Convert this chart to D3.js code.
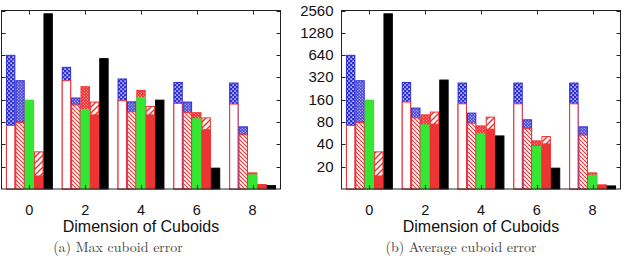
<!DOCTYPE html>
<html><head><meta charset="utf-8">
<script src="https://cdn.jsdelivr.net/npm/d3@7"></script>
<style>
html,body{margin:0;padding:0;background:#fff;}
svg{display:block;}
</style></head>
<body>
<svg id="chart" width="624" height="263"></svg>
<script>
// ---------- data ----------
const dims = [0, 2, 4, 6, 8];
const yTickValues = [20, 40, 80, 160, 320, 640, 1280, 2560];
const xTickValues = [0, 2, 4, 6, 8];
const panelTitles = ["(a) Max cuboid error", "(b) Average cuboid error"];
const xAxisTitle = "Dimension of Cuboids";

// (a) Max cuboid error
const maxA_outer = [636, 438, 305, 274, 269];
const maxA_inner = [72, 289, 155, 143, 140];
const maxB_outer = [289, 169, 150, 149, 69];
const maxB_inner = [79, 136, 110, 108, 54];
const maxC_outer = [157, 240, 214, 107, 16.5];
const maxC_inner = [157, 118, 172, 88.5, 15.5];
const maxD_outer = [31.7, 149, 130, 91, 11.4];
const maxD_inner = [15, 100, 100, 63, 11.4];
const maxE = [2309, 574, 158, 19.1, 11.1];

// (b) Average cuboid error
const avgA_outer = [636, 274, 269, 269, 269];
const avgA_inner = [72, 149, 141, 141, 141];
const avgB_outer = [289, 123.5, 105.7, 85.8, 69];
const avgB_inner = [79, 91, 77.4, 65.4, 53.3];
const avgC_outer = [157, 100, 71, 44.6, 16.5];
const avgC_inner = [157, 73.4, 55.5, 37.4, 15.3];
const avgD_outer = [31.7, 109, 93.3, 51, 11.3];
const avgD_inner = [15, 75, 64.2, 40.6, 11.3];
const avgE = [2309, 295, 52, 19.1, 11];

// ---------- drawing ----------
const svg = d3.select("#chart");
const defs = svg.append("defs");
const BLUE = "#2f2fd8", RED = "#ee3333", GREEN = "#33e833";

function dotPattern(id, bg, size, dot) {
  const p = defs.append("pattern").attr("id", id).attr("patternUnits", "userSpaceOnUse")
    .attr("width", size).attr("height", size);
  p.append("rect").attr("width", size).attr("height", size).attr("fill", bg);
  p.append("rect").attr("x", size*0.1).attr("y", size*0.1).attr("width", dot).attr("height", dot).attr("fill", "#fff");
  p.append("rect").attr("x", size*0.6).attr("y", size*0.6).attr("width", dot).attr("height", dot).attr("fill", "#fff");
}
function hatchPattern(id, size, dir, sw) {
  const p = defs.append("pattern").attr("id", id).attr("patternUnits", "userSpaceOnUse")
    .attr("width", size).attr("height", size);
  p.append("rect").attr("width", size).attr("height", size).attr("fill", "#fff");
  const d = dir > 0
    ? `M0,${size} L${size},0 M${-size/2},${size/2} L${size/2},${-size/2} M${size/2},${size*1.5} L${size*1.5},${size/2}`
    : `M0,0 L${size},${size} M${-size/2},${size/2} L${size/2},${size*1.5} M${size/2},${-size/2} L${size*1.5},${size/2}`;
  p.append("path").attr("d", d).attr("stroke", RED).attr("stroke-width", sw);
}
dotPattern("blueBig", BLUE, 4, 1.4);
dotPattern("blueFine", "#4a4ad8", 3, 0.9);
dotPattern("redDense", RED, 3, 0.8);
hatchPattern("hatchBack", 4, -1, 1.1);
hatchPattern("hatchFwd", 6, 1, 1.5);

const y = d3.scaleLog().base(2).domain([10, 2560]).range([189, 10.5]);

const panels = [
  { x0: 1.5, x1: 280.5, showY: false, data: [
      [maxA_outer, maxA_inner], [maxB_outer, maxB_inner], [maxC_outer, maxC_inner],
      [maxD_outer, maxD_inner], [maxE, null]], title: panelTitles[0], titleX: 118 },
  { x0: 341.5, x1: 620.5, showY: true, data: [
      [avgA_outer, avgA_inner], [avgB_outer, avgB_inner], [avgC_outer, avgC_inner],
      [avgD_outer, avgD_inner], [avgE, null]], title: panelTitles[1], titleX: 461 }
];

const styles = [
  { outer: { fill: "url(#blueBig)", stroke: BLUE }, inner: { fill: "#fff", stroke: RED } },
  { outer: { fill: "url(#blueFine)", stroke: BLUE }, inner: { fill: "url(#hatchBack)", stroke: RED } },
  { outer: { fill: "url(#redDense)", stroke: RED }, inner: { fill: GREEN, stroke: GREEN } },
  { outer: { fill: "url(#hatchFwd)", stroke: RED }, inner: { fill: RED, stroke: RED } },
  { outer: { fill: "#000", stroke: "#000" }, inner: null }
];

const BW = 0.336; // bar width in x units

panels.forEach(pn => {
  const x = d3.scaleLinear().domain([-1, 9]).range([pn.x0, pn.x1]);
  const g = svg.append("g");
  const yBase = y.range()[0];

  pn.data.forEach((pair, i) => {
    const st = styles[i];
    const draw = (vals, s) => {
      g.append("g").selectAll("rect").data(dims.map((d, k) => ({ d, v: vals[k] })))
        .join("rect")
        .attr("x", o => x(o.d + (i - 2) * BW - BW / 2) + 0.5)
        .attr("width", o => x(o.d + (i - 2) * BW + BW / 2) - x(o.d + (i - 2) * BW - BW / 2) - 1)
        .attr("y", o => y(o.v))
        .attr("height", o => yBase - y(o.v))
        .attr("fill", s.fill).attr("stroke", s.stroke).attr("stroke-width", 1);
    };
    draw(pair[0], st.outer);
    if (pair[1]) draw(pair[1], st.inner);
  });

  // frame
  g.append("rect").attr("x", pn.x0).attr("y", 10.5).attr("width", pn.x1 - pn.x0).attr("height", 178.5)
    .attr("fill", "none").attr("stroke", "#222").attr("stroke-width", 1);

  // inward ticks
  const tk = 4;
  yTickValues.forEach(v => {
    const yy = Math.round(y(v)) + 0.5;
    g.append("line").attr("x1", pn.x0).attr("x2", pn.x0 + tk).attr("y1", yy).attr("y2", yy).attr("stroke", "#222");
    g.append("line").attr("x1", pn.x1 - tk).attr("x2", pn.x1).attr("y1", yy).attr("y2", yy).attr("stroke", "#222");
  });
  xTickValues.forEach(v => {
    const xx = Math.round(x(v)) + 0.5;
    g.append("line").attr("x1", xx).attr("x2", xx).attr("y1", 10.5).attr("y2", 10.5 + tk).attr("stroke", "#222");
    g.append("line").attr("x1", xx).attr("x2", xx).attr("y1", 189).attr("y2", 189 - tk).attr("stroke", "#222");
  });

  // x tick labels
  g.selectAll("text.xt").data(xTickValues).join("text")
    .attr("x", v => x(v)).attr("y", 215).attr("text-anchor", "middle")
    .attr("font-family", "Liberation Sans, Arial, sans-serif").attr("font-size", 14.5).attr("fill", "#111")
    .text(v => v);

  g.append("text").attr("x", (pn.x0 + pn.x1) / 2).attr("y", 232).attr("text-anchor", "middle")
    .attr("font-family", "Liberation Sans, Arial, sans-serif").attr("font-size", 16).attr("fill", "#111")
    .text(xAxisTitle);

  if (pn.showY) {
    g.selectAll("text.yt").data(yTickValues).join("text")
      .attr("x", pn.x0 - 8).attr("y", v => y(v) + 5).attr("text-anchor", "end")
      .attr("font-family", "Liberation Sans, Arial, sans-serif").attr("font-size", 15).attr("fill", "#111")
      .text(v => v);
  }

  g.append("text").attr("x", pn.titleX).attr("y", 252).attr("text-anchor", "middle")
    .attr("font-family", "Latin Modern Roman, Liberation Serif, serif").attr("font-size", 14).attr("fill", "#444")
    .text(pn.title);
});
</script>
</body></html>
